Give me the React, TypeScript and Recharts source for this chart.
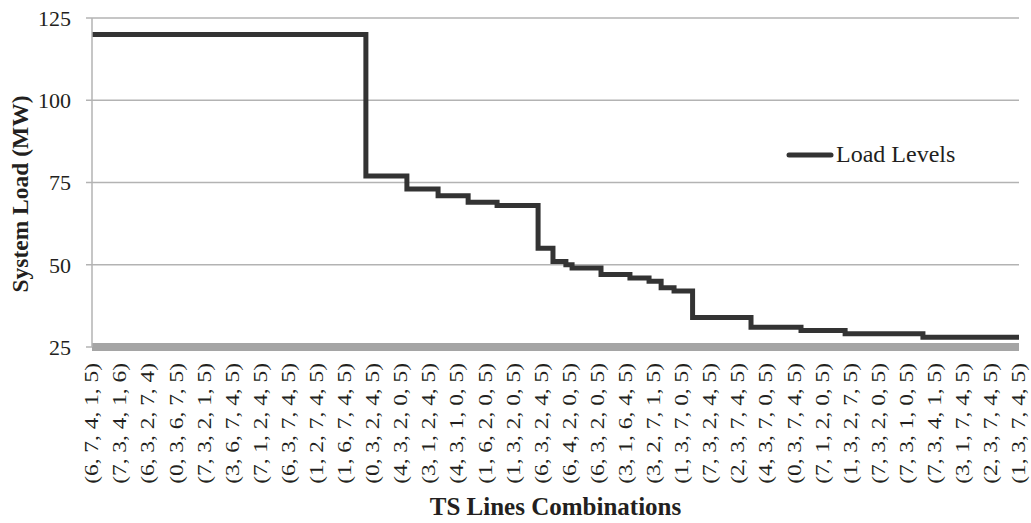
import React from 'react';
import { LineChart, Line, XAxis, YAxis, CartesianGrid, Legend } from 'recharts';

// TS line combinations shown on the category axis, left to right
const combos = [
  '(6, 7, 4, 1, 5)', '(7, 3, 4, 1, 6)', '(6, 3, 2, 7, 4)', '(0, 3, 6, 7, 5)', '(7, 3, 2, 1, 5)',
  '(3, 6, 7, 4, 5)', '(7, 1, 2, 4, 5)', '(6, 3, 7, 4, 5)', '(1, 2, 7, 4, 5)', '(1, 6, 7, 4, 5)',
  '(0, 3, 2, 4, 5)', '(4, 3, 2, 0, 5)', '(3, 1, 2, 4, 5)', '(4, 3, 1, 0, 5)', '(1, 6, 2, 0, 5)',
  '(1, 3, 2, 0, 5)', '(6, 3, 2, 4, 5)', '(6, 4, 2, 0, 5)', '(6, 3, 2, 0, 5)', '(3, 1, 6, 4, 5)',
  '(3, 2, 7, 1, 5)', '(1, 3, 7, 0, 5)', '(7, 3, 2, 4, 5)', '(2, 3, 7, 4, 5)', '(4, 3, 7, 0, 5)',
  '(0, 3, 7, 4, 5)', '(7, 1, 2, 0, 5)', '(1, 3, 2, 7, 5)', '(7, 3, 2, 0, 5)', '(7, 3, 1, 0, 5)',
  '(7, 3, 4, 1, 5)', '(3, 1, 7, 4, 5)', '(2, 3, 7, 4, 5)', '(1, 3, 7, 4, 5)',
];

// where each load level starts (position along the combination axis)
const stepStart = [
  0, 9.75, 11.21, 12.32, 13.39, 14.42, 15.88, 16.41, 16.87, 17.09,
  18.12, 19.15, 19.83, 20.26, 20.72, 21.38, 23.46, 25.24, 26.81, 29.58,
];

// system load (MW) for each step
const loadLevels = [
  120, 77, 73, 71, 69, 68, 55, 51, 50, 49,
  47, 46, 45, 43, 42, 34, 31, 30, 29, 28,
];

const yTicks = [25, 50, 75, 100, 125];

const data = [
  ...stepStart.map((pos, i) => ({ pos, load: loadLevels[i] })),
  { pos: combos.length - 1, load: loadLevels[loadLevels.length - 1] },
];

const FONT = '"Liberation Serif", "Times New Roman", serif';
const TEXT = '#231f20';

const ComboTick = (props: any) => {
  const { x, y, payload } = props;
  return (
    <g transform={`translate(${x},${y + 8})`}>
      <text
        transform="rotate(-90) scale(1.3,1)"
        textAnchor="end"
        dy="0.35em"
        fontSize={18}
        fontFamily={FONT}
        fill={TEXT}
      >
        {combos[payload.value]}
      </text>
    </g>
  );
};

const XTitle = (props: any) => {
  const { x, width } = props.viewBox;
  return (
    <text x={x + width / 2} y={515} textAnchor="middle" fontSize={25} fontWeight="bold" fontFamily={FONT} fill={TEXT}>
      TS Lines Combinations
    </text>
  );
};

const YTitle = () => (
  <text
    transform="translate(28,194) rotate(-90)"
    textAnchor="middle"
    fontSize={23.5}
    fontWeight="bold"
    fontFamily={FONT}
    fill={TEXT}
  >
    System Load (MW)
  </text>
);

const LegendBox = () => (
  <div style={{ display: 'flex', alignItems: 'center', fontFamily: FONT, fontSize: 24, color: TEXT }}>
    <svg width={48} height={10}>
      <line x1={3} y1={5} x2={45} y2={5} stroke="#333" strokeWidth={5} strokeLinecap="round" />
    </svg>
    <span style={{ marginLeft: 2 }}>Load Levels</span>
  </div>
);

export default function App() {
  return (
    <div style={{ position: 'absolute', left: 0, top: 0, background: '#fff' }}>
      <LineChart width={1031} height={523} data={data} margin={{ top: 18, right: 12, bottom: 26, left: 0 }}>
        <CartesianGrid vertical={false} stroke="#b3b3b3" strokeWidth={1.5} />
        <XAxis
          type="number"
          dataKey="pos"
          domain={[0, combos.length - 1]}
          ticks={combos.map((_, i) => i)}
          interval={0}
          tick={<ComboTick />}
          tickLine={false}
          axisLine={{ stroke: '#a5a5a5', strokeWidth: 8 }}
          height={150}
          label={<XTitle />}
        />
        <YAxis
          domain={[25, 125]}
          ticks={yTicks}
          width={92}
          tickSize={6}
          tickMargin={15}
          tickLine={{ stroke: '#b3b3b3', strokeWidth: 1.5 }}
          axisLine={{ stroke: '#b3b3b3', strokeWidth: 1.5 }}
          tick={{ fontSize: 22, fontFamily: FONT, fill: TEXT }}
          label={<YTitle />}
        />
        <Legend
          layout="horizontal"
          verticalAlign="middle"
          align="center"
          content={<LegendBox />}
          wrapperStyle={{ position: 'absolute', left: 786, top: 141, width: 'auto' }}
        />
        <Line
          type="stepAfter"
          dataKey="load"
          name="Load Levels"
          stroke="#333"
          strokeWidth={5}
          dot={false}
          isAnimationActive={false}
        />
      </LineChart>
    </div>
  );
}
